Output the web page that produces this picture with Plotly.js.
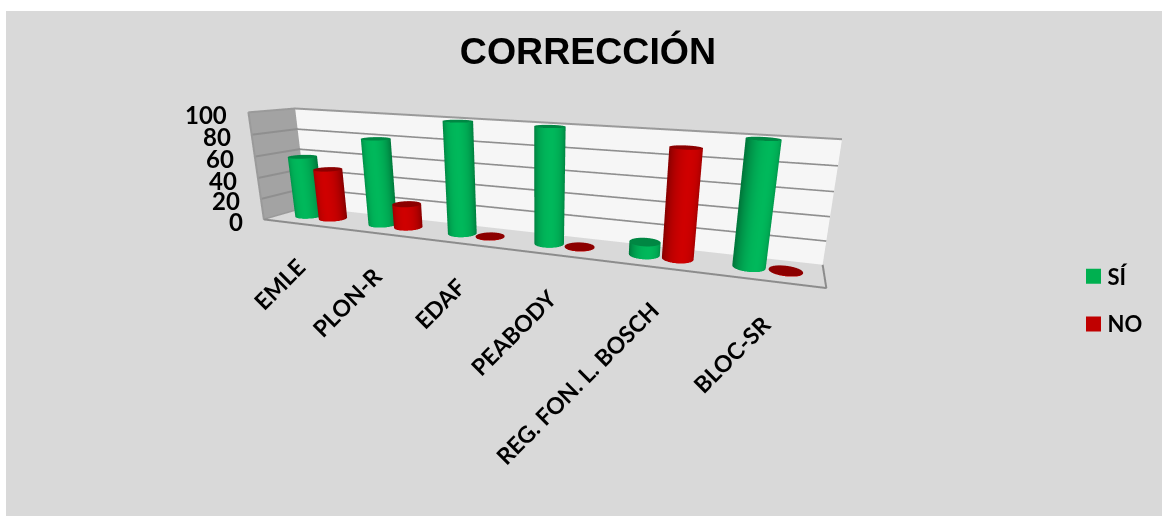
<!DOCTYPE html>
<html><head><meta charset="utf-8">
<script src="https://cdn.plot.ly/plotly-3.0.1.min.js"></script>
<style>html,body{margin:0;padding:0;background:#fff}#c{position:absolute;left:6px;top:11px;width:1156px;height:505px}</style>
</head><body><div id="c"></div>
<script>
var categories=["EMLE","PLON-R","EDAF","PEABODY","REG. FON. L. BOSCH","BLOC-SR"];
var si=[58,80,100,100,11,100];
var no=[48,22,0,0,90,0];
var zTicks=[0,20,40,60,80,100];
var W=1156,H=505;
var p=[2.1787,-4.9268,1.0397,0.7257,-0.3160,-0.5551,-0.0254,5.2447,0.5948];
var ax=p[7],ay=p[8],az=1.035;
var camera={eye:{x:p[0],y:p[1],z:p[2]},center:{x:p[3],y:p[4],z:p[5]},up:{x:p[6],y:0,z:1}};
var eyeXY=[0.4,-0.9];
function shade(c,k){return "rgb("+c.map(function(v){return Math.min(255,Math.round(v*k))}).join(",")+")"}
function cylinder(xc,v,rgb,capk){
 var r=0.152,N=48,h=Math.max(v,0.5),X=[],Y=[],Z=[],C=[],I=[],J=[],K=[];
 for(var n=0;n<N;n++){var a=2*Math.PI*n/N,cx=Math.cos(a),cy=Math.sin(a);
  var t=Math.max(0,cx*eyeXY[0]+cy*eyeXY[1]);var k=0.68+0.36*Math.pow(t,1.2);
  var col=shade(rgb,k);
  var rx=r, ry=r*(ax/6)/ay;
  X.push(xc+rx*cx,xc+rx*cx,xc+rx*cx);Y.push(.5+ry*cy,.5+ry*cy,.5+ry*cy);Z.push(0,h,h);C.push(col,col,shade(rgb,capk));
  var m=(n+1)%N;
  I.push(3*n,3*n+1);J.push(3*m,3*m);K.push(3*n+1,3*m+1);
 }
 var ci=X.length;X.push(xc);Y.push(.5);Z.push(h);C.push(shade(rgb,capk));
 for(n=0;n<N;n++){I.push(ci);J.push(3*n+2);K.push(3*((n+1)%N)+2)}
 return {type:"mesh3d",x:X,y:Y,z:Z,i:I,j:J,k:K,vertexcolor:C,flatshading:false,showlegend:false,hoverinfo:"skip",
  lighting:{ambient:1,diffuse:0,specular:0,roughness:1,fresnel:0},lightposition:{x:0,y:0,z:1e5}};
}
var green=[0,178,88],red=[200,0,0];
var traces=[];
categories.forEach(function(c,i){
 traces.push(cylinder(i+.5-.165,si[i],green,.76));
 traces.push(cylinder(i+.5+.165,no[i],red,.7));
});
var ann=[];
zTicks.forEach(function(t){ann.push({x:0,y:0,z:t,text:"<b>"+t+"</b>",showarrow:false,xanchor:"right",yanchor:"middle",xshift:-19,yshift:-2,font:{family:"Lato",size:24,color:"#000"}})});
categories.forEach(function(c,i){ann.push({x:i+.5,y:0,z:0,text:"<b>"+c+"</b>",showarrow:false,xanchor:"right",yanchor:"top",textangle:-45,xshift:13,yshift:-26,font:{family:"Lato",size:23,color:"#000"}})});
zTicks.slice(1,5).forEach(function(t){
 traces.push({type:"scatter3d",mode:"lines",x:[0,0,6],y:[0,1,1],z:[t,t,t],line:{color:"#8f8f8f",width:4},showlegend:false,hoverinfo:"skip"});
});
traces.push({type:"scatter3d",mode:"lines",x:[0,6,6],y:[0,0,1],z:[0,0,0],line:{color:"#8c8c8c",width:4},showlegend:false,hoverinfo:"skip"});
traces.push({type:"scatter3d",mode:"lines",x:[0,0,0,0,6],y:[1,0,0,1,1],z:[0,0,100,100,100],line:{color:"#9a9a9a",width:4},showlegend:false,hoverinfo:"skip"});
traces.push({type:"scatter",x:[null],y:[null],mode:"markers",name:"SÍ",legendgroup:"a",marker:{symbol:"square",size:15,color:"#00b050"}});
traces.push({type:"scatter",x:[null],y:[null],mode:"markers",name:"NO",legendgroup:"b",marker:{symbol:"square",size:15,color:"#c00000"}});
function ax3(range,bg){return {range:range,showbackground:true,backgroundcolor:bg,showgrid:false,zeroline:false,showline:false,showticklabels:false,ticks:"",title:{text:""},showspikes:false}}
var layout={width:W,height:H,margin:{l:0,r:0,t:0,b:0},paper_bgcolor:"#d9d9d9",plot_bgcolor:"rgba(0,0,0,0)",
 title:{text:"<b>CORRECCIÓN</b>",font:{family:"Liberation Sans",size:37.5,color:"#000"},x:(588-6)/W,xanchor:"center",y:1-(51-11)/H,yanchor:"middle"},
 xaxis:{visible:false},yaxis:{visible:false},
 legend:{x:(1073.5-6)/W,xanchor:"left",y:1-(255.5-11)/H,yanchor:"top",font:{family:"Lato",size:22,color:"#000",weight:700},itemwidth:30,tracegroupgap:16,bgcolor:"rgba(0,0,0,0)"},
 scene:{domain:{x:[0,1],y:[0,1]},aspectmode:"manual",aspectratio:{x:ax,y:ay,z:az},camera:camera,dragmode:"orbit",bgcolor:"rgba(0,0,0,0)",
  xaxis:ax3([0,6],"#a3a3a3"),
  yaxis:ax3([0,1],"#f6f6f6"),
  zaxis:ax3([0,100],"#d9d9d9"),
  annotations:ann}
};
Plotly.newPlot("c",traces,layout,{displayModeBar:false}).then(function(){
 document.querySelectorAll(".legendtext").forEach(function(t){t.setAttribute("x",parseFloat(t.getAttribute("x"))-6)});
});
</script></body></html>
